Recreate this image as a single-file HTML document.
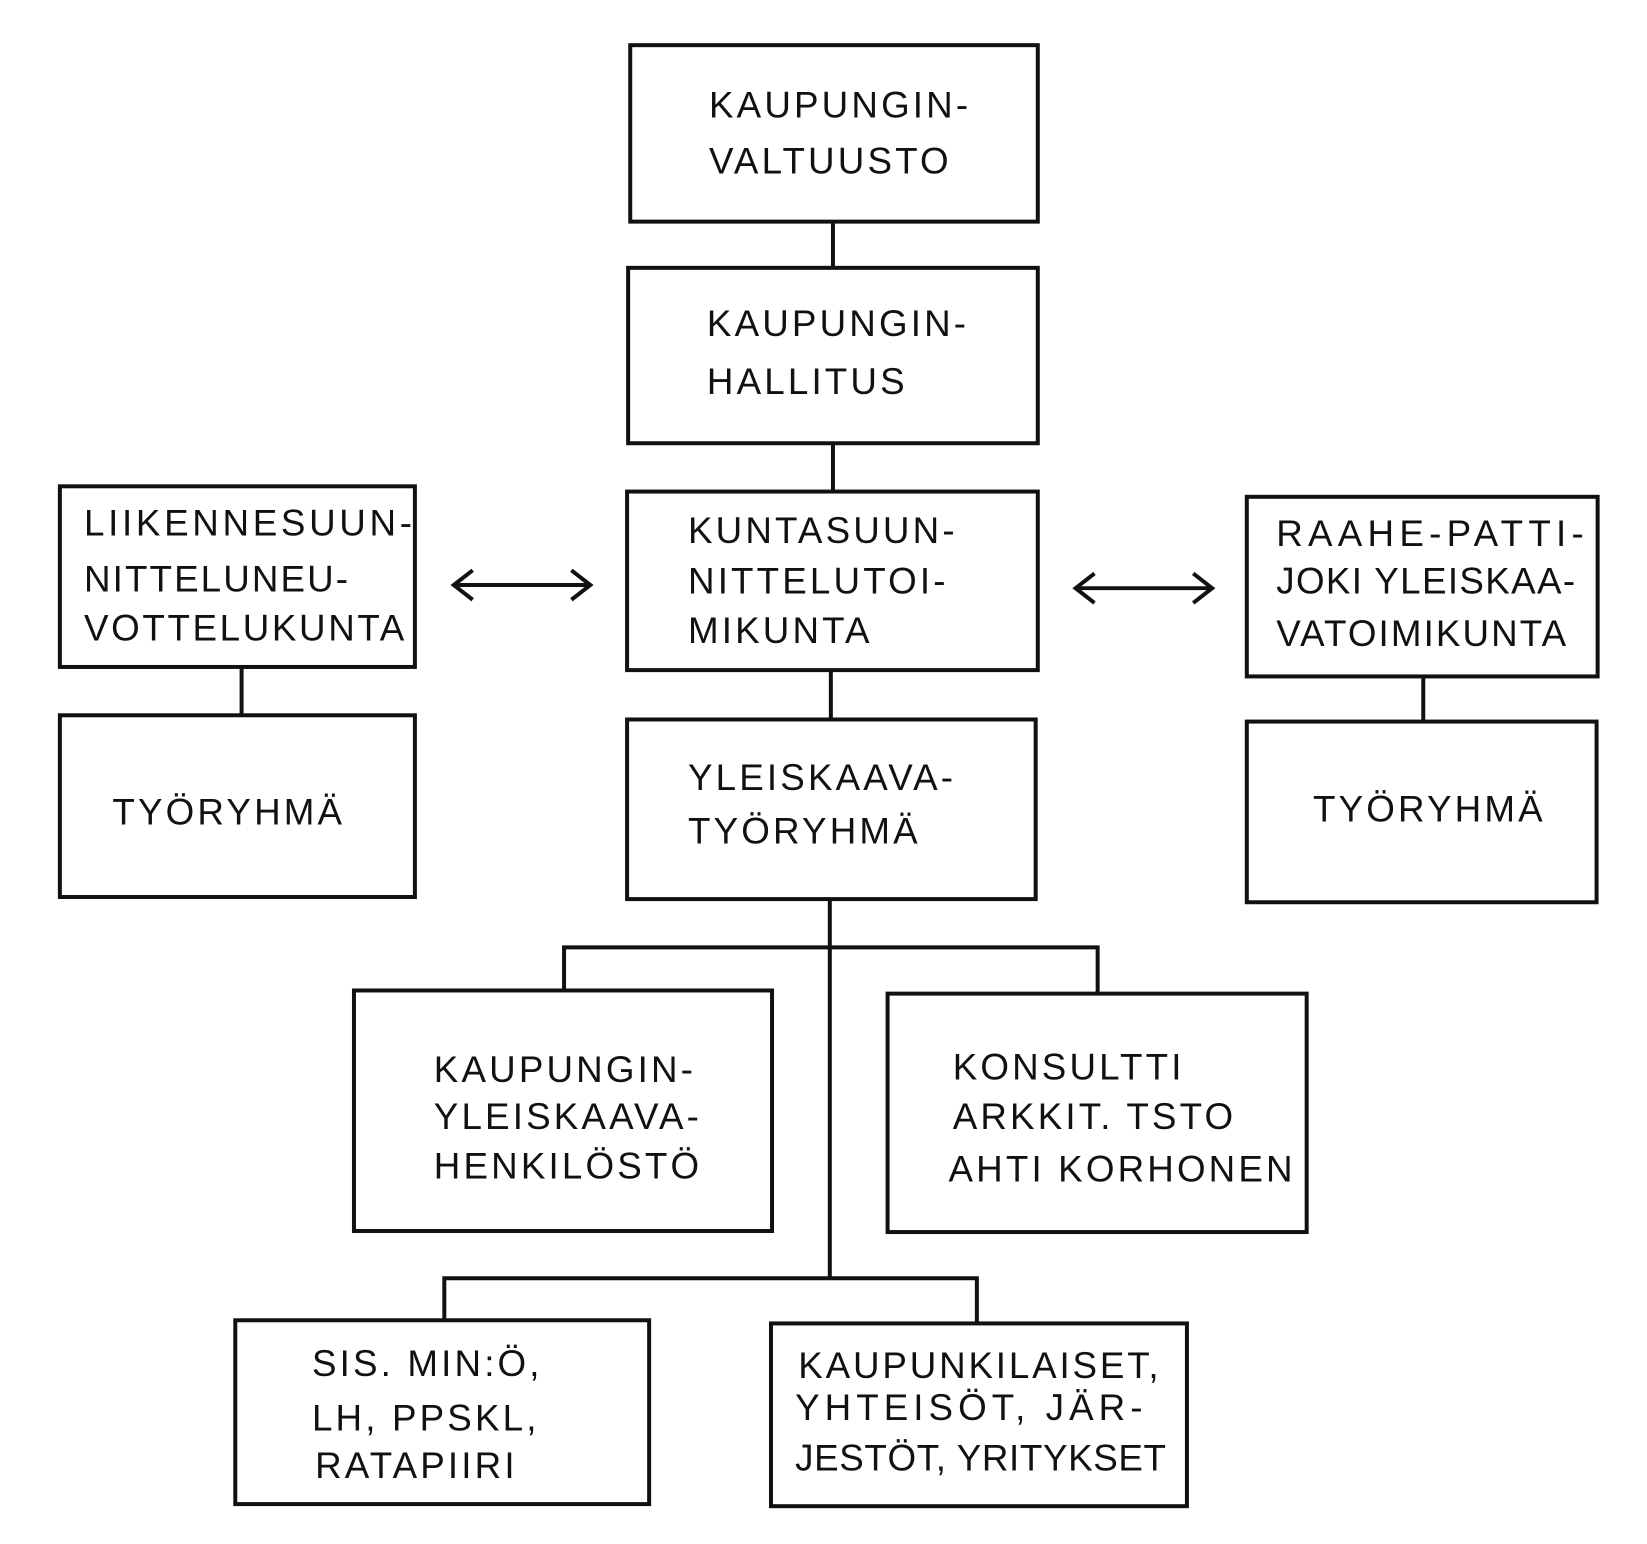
<!DOCTYPE html>
<html><head><meta charset="utf-8"><style>
html,body{margin:0;padding:0;background:#fff;}
svg{display:block}
text{font-family:"Liberation Sans",sans-serif;font-size:35px;letter-spacing:3px;fill:#111;}
</style></head><body>
<svg width="1647" height="1544" viewBox="0 0 1568 1470" preserveAspectRatio="none">
<g fill="none" stroke="#111" stroke-width="3.8">
<rect x="600" y="43" width="388" height="168"/>
<rect x="598" y="255" width="390" height="167"/>
<rect x="597" y="468" width="391" height="170"/>
<rect x="57" y="463" width="338" height="172"/>
<rect x="57" y="681" width="338" height="173"/>
<rect x="1187" y="473" width="334" height="171"/>
<rect x="1187" y="687" width="333" height="172"/>
<rect x="597" y="685" width="389" height="171"/>
<rect x="337" y="943" width="398" height="229"/>
<rect x="845" y="946" width="399" height="227"/>
<rect x="224" y="1257" width="394" height="175"/>
<rect x="734" y="1260" width="396" height="174"/>
<path d="M793 211V255M793 422V468M791 638V685M230 635V681M1355 644V687"/>
<path d="M790 856V1217M537 943V902H1045V946M423 1257V1217H930V1260"/>
<path d="M432 557H562M450 543L432 557L450 571M544 543L562 557L544 571"/>
<path d="M1024 560H1154M1042 546L1024 560L1042 574M1136 546L1154 560L1136 574"/>
</g>
<text x="675" y="112">KAUPUNGIN-</text><text x="675" y="165">VALTUUSTO</text>
<text x="673" y="320">KAUPUNGIN-</text><text x="673" y="375">HALLITUS</text>
<text x="655" y="517">KUNTASUUN-</text><text x="655" y="565">NITTELUTOI-</text><text x="655" y="612">MIKUNTA</text>
<text x="80" y="510" style="letter-spacing:3.5px">LIIKENNESUUN-</text><text x="80" y="563" style="letter-spacing:2px">NITTELUNEU-</text><text x="80" y="610" style="letter-spacing:2.5px">VOTTELUKUNTA</text>
<text x="107" y="785">TYÖRYHMÄ</text>
<text x="1215" y="520" style="letter-spacing:5px">RAAHE-PATTI-</text><text x="1215" y="565" style="letter-spacing:1.3px">JOKI YLEISKAA-</text><text x="1215" y="615" style="letter-spacing:2px">VATOIMIKUNTA</text>
<text x="1250" y="782">TYÖRYHMÄ</text>
<text x="655" y="752">YLEISKAAVA-</text><text x="655" y="803">TYÖRYHMÄ</text>
<text x="413" y="1030">KAUPUNGIN-</text><text x="413" y="1075">YLEISKAAVA-</text><text x="413" y="1122">HENKILÖSTÖ</text>
<text x="907" y="1028">KONSULTTI</text><text x="907" y="1075">ARKKIT. TSTO</text><text x="903" y="1125">AHTI KORHONEN</text>
<text x="297" y="1310">SIS. MIN:Ö,</text><text x="297" y="1362">LH, PPSKL,</text><text x="300" y="1407">RATAPIIRI</text>
<text x="760" y="1312" style="letter-spacing:2.7px">KAUPUNKILAISET,</text><text x="757" y="1352" style="letter-spacing:4.8px">YHTEISÖT, JÄR-</text><text x="757" y="1400" style="letter-spacing:0.6px">JESTÖT, YRITYKSET</text>
</svg>
</body></html>
